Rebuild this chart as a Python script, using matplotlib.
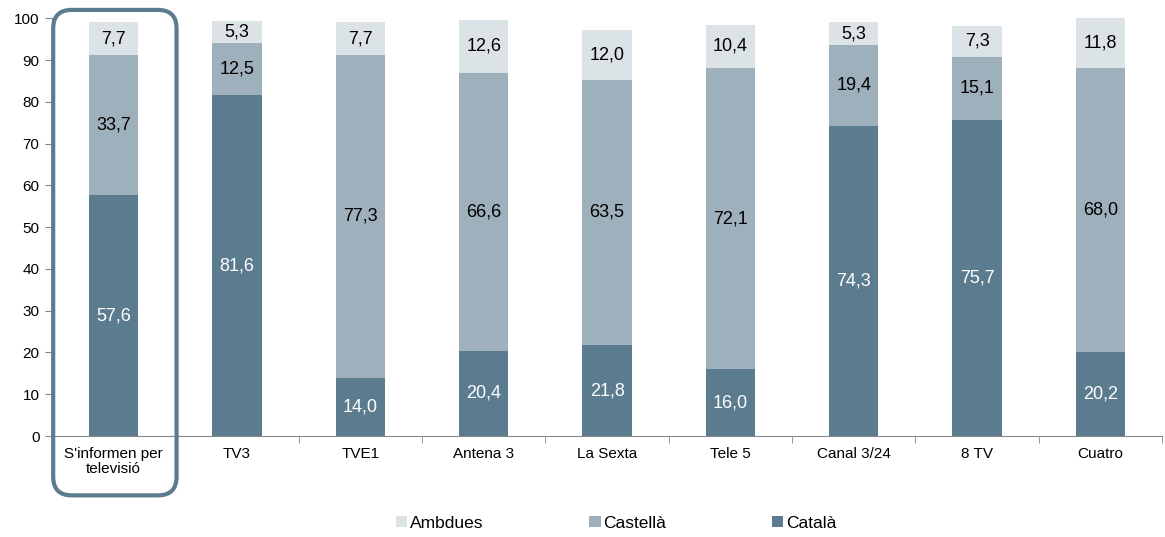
import numpy as np
import matplotlib
matplotlib.use("Agg")
import matplotlib.pyplot as plt
from matplotlib.patches import FancyBboxPatch

plt.rcParams['font.family'] = ['Liberation Sans', 'DejaVu Sans']

categories = ["S'informen per\ntelevisió", "TV3", "TVE1", "Antena 3", "La Sexta",
              "Tele 5", "Canal 3/24", "8 TV", "Cuatro"]
catala = [57.6, 81.6, 14.0, 20.4, 21.8, 16.0, 74.3, 75.7, 20.2]
castella = [33.7, 12.5, 77.3, 66.6, 63.5, 72.1, 19.4, 15.1, 68.0]
ambdues = [7.7, 5.3, 7.7, 12.6, 12.0, 10.4, 5.3, 7.3, 11.8]

c_cat = '#5b7b8e'
c_cas = '#9eb0bb'
c_amb = '#dce3e7'

fig = plt.figure(figsize=(11.65, 5.37), dpi=100)
ax = fig.add_axes([0.0446, 0.188, 0.953, 0.778])

x = np.arange(len(categories))
w = 0.4
cat = np.array(catala)
cas = np.array(castella)
amb = np.array(ambdues)

b1 = ax.bar(x, cat, w, color=c_cat, label='Català')
b2 = ax.bar(x, cas, w, bottom=cat, color=c_cas, label='Castellà')
b3 = ax.bar(x, amb, w, bottom=cat + cas, color=c_amb, label='Ambdues')

def fmt(v):
    return f"{v:.1f}".replace('.', ',')

for i in x:
    ax.text(i, cat[i] / 2, fmt(cat[i]), ha='center', va='center', color='white', fontsize=13)
    ax.text(i, cat[i] + cas[i] / 2, fmt(cas[i]), ha='center', va='center', color='black', fontsize=13)
    ax.text(i, cat[i] + cas[i] + amb[i] / 2, fmt(amb[i]), ha='center', va='center', color='black', fontsize=13)

ax.set_xlim(-0.5, len(categories) - 0.5)
ax.set_ylim(0, 100)
ax.set_yticks(range(0, 101, 10))
ax.set_xticks(x)
ax.set_xticklabels(categories, fontsize=11, linespacing=1.05)
ax.set_xticks(np.arange(-0.5, len(categories), 1), minor=True)
ax.tick_params(axis='x', which='major', length=0, pad=8)
ax.tick_params(axis='x', which='minor', length=5, color='#888888', direction='out')
ax.tick_params(axis='y', length=5, color='#888888', labelsize=11, pad=4)
for s in ['top', 'right']:
    ax.spines[s].set_visible(False)
ax.spines['left'].set_color('#888888')
ax.spines['bottom'].set_color('#888888')

# rounded highlight box around first category
box = FancyBboxPatch((-0.49, -14.2), 1.0, 116.2,
                     boxstyle='round,pad=0,rounding_size=0.15',
                     mutation_aspect=29.7, fill=False, edgecolor=c_cat,
                     linewidth=3, clip_on=False, zorder=5)
ax.add_patch(box)

fig.legend(handles=[b3, b2, b1], loc='center', bbox_to_anchor=(0.529, 0.026), ncol=3,
           frameon=False, fontsize=12.5, handlelength=0.65, handleheight=0.65,
           handletextpad=0.15, columnspacing=6.1)

fig.savefig('out.png', dpi=100)
